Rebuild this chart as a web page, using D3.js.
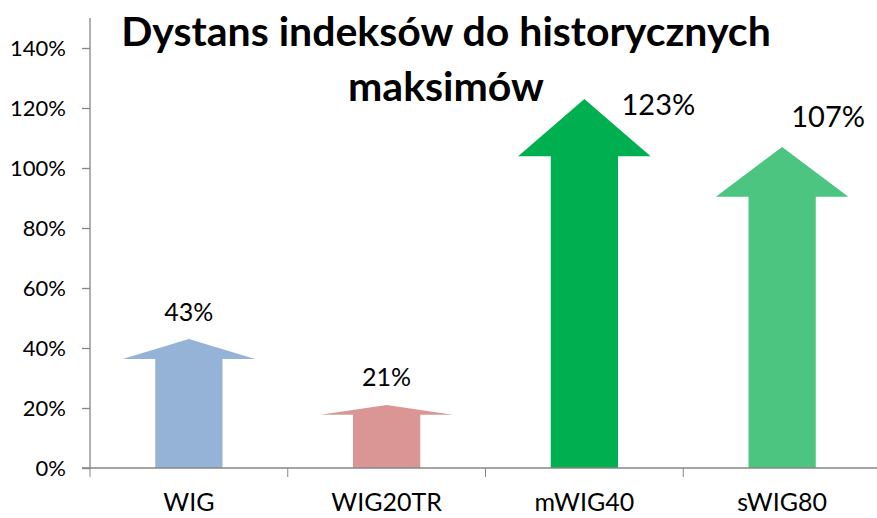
<!DOCTYPE html>
<html>
<head>
<meta charset="utf-8">
<script src="https://cdn.jsdelivr.net/npm/d3@7"></script>
<style>
  body { margin: 0; background: #fff; }
  svg text { font-family: Lato, "Open Sans", sans-serif; fill: #000; }
</style>
</head>
<body>
<div id="chart"></div>
<script>
var categories = ["WIG", "WIG20TR", "mWIG40", "sWIG80"];
var values = [0.43, 0.21, 1.23, 1.07];
var colors = ["#95b3d7", "#d99694", "#00b050", "#4bc580"];
var yTicks = [0, 0.2, 0.4, 0.6, 0.8, 1.0, 1.2, 1.4];
var titleLines = ["Dystans indeksów do historycznych", "maksimów"];

var width = 877,
    height = 518,
    x0 = 90, x1 = 881,
    yBase = 468, yTop = 18;

var svg = d3.select("#chart")
  .append("svg")
  .attr("width", width)
  .attr("height", height);

var x = d3.scaleBand().domain(categories).range([x0, x1]).padding(0);
var y = d3.scaleLinear().domain([0, 1.5]).range([yBase, yTop]);

// arrows
function arrowPath(d, i) {
  var c = x(categories[i]) + x.bandwidth() / 2;
  var bw = x.bandwidth();
  var sh = bw * 0.17, hh = bw * 0.335;
  var tip = y(d), base = y(0);
  var headBase = tip + (base - tip) * 0.155;
  return "M" + (c - sh) + "," + base +
    "L" + (c - sh) + "," + headBase +
    "L" + (c - hh) + "," + headBase +
    "L" + c + "," + tip +
    "L" + (c + hh) + "," + headBase +
    "L" + (c + sh) + "," + headBase +
    "L" + (c + sh) + "," + base + "Z";
}

svg.selectAll(".arrow")
  .data(values)
  .enter().append("path")
  .attr("class", "arrow")
  .attr("d", arrowPath)
  .style("fill", (d, i) => colors[i]);

// axes
var yAxis = d3.axisLeft(y).tickValues(yTicks).tickSize(8).tickPadding(16)
  .tickFormat(d => Math.round(d * 100) + "%");
var xAxis = d3.axisBottom(x).tickSize(0).tickPadding(0).tickFormat("");

var gy = svg.append("g").attr("transform", `translate(${x0},0)`).call(yAxis);
gy.select(".domain").attr("d", `M0,${yTop}V${yBase}`);
gy.selectAll("text").style("font-size", "22px").attr("dy", "0.35em");

var gx = svg.append("g").attr("transform", `translate(0,${yBase})`).call(xAxis);
gx.select(".domain").attr("d", `M${x0 - 8},0H${x1}`);
gx.selectAll(".tick").remove();

// category boundary ticks
svg.selectAll(".xtick")
  .data(categories)
  .enter().append("line")
  .attr("x1", d => x(d)).attr("x2", d => x(d))
  .attr("y1", yBase).attr("y2", yBase + 9)
  .attr("stroke", "#868686");

svg.selectAll(".domain, .tick line").attr("stroke", "#868686").attr("stroke-width", 1.3);

svg.selectAll(".catlabel")
  .data(categories)
  .enter().append("text")
  .attr("x", d => x(d) + x.bandwidth() / 2)
  .attr("y", 511)
  .attr("text-anchor", "middle")
  .style("font-size", "25px")
  .text(d => d);

// value labels (the two big ones were nudged right, off the title)
var nudge = [{dx: 0, dy: -18, fs: 25}, {dx: 0, dy: -19, fs: 25}, {dx: 74, dy: 16, fs: 29}, {dx: 46, dy: -20, fs: 29}];
svg.selectAll(".vlabel")
  .data(values)
  .enter().append("text")
  .attr("x", (d, i) => x(categories[i]) + x.bandwidth() / 2 + nudge[i].dx)
  .attr("y", (d, i) => y(d) + nudge[i].dy)
  .attr("text-anchor", "middle")
  .style("font-size", (d, i) => nudge[i].fs + "px")
  .text(d => Math.round(d * 100) + "%");

// title
svg.selectAll(".title")
  .data(titleLines)
  .enter().append("text")
  .attr("x", 446)
  .attr("y", (d, i) => 46 + i * 55)
  .attr("text-anchor", "middle")
  .style("font-size", "41px")
  .style("font-weight", "bold")
  .text(d => d);
</script>
</body>
</html>
